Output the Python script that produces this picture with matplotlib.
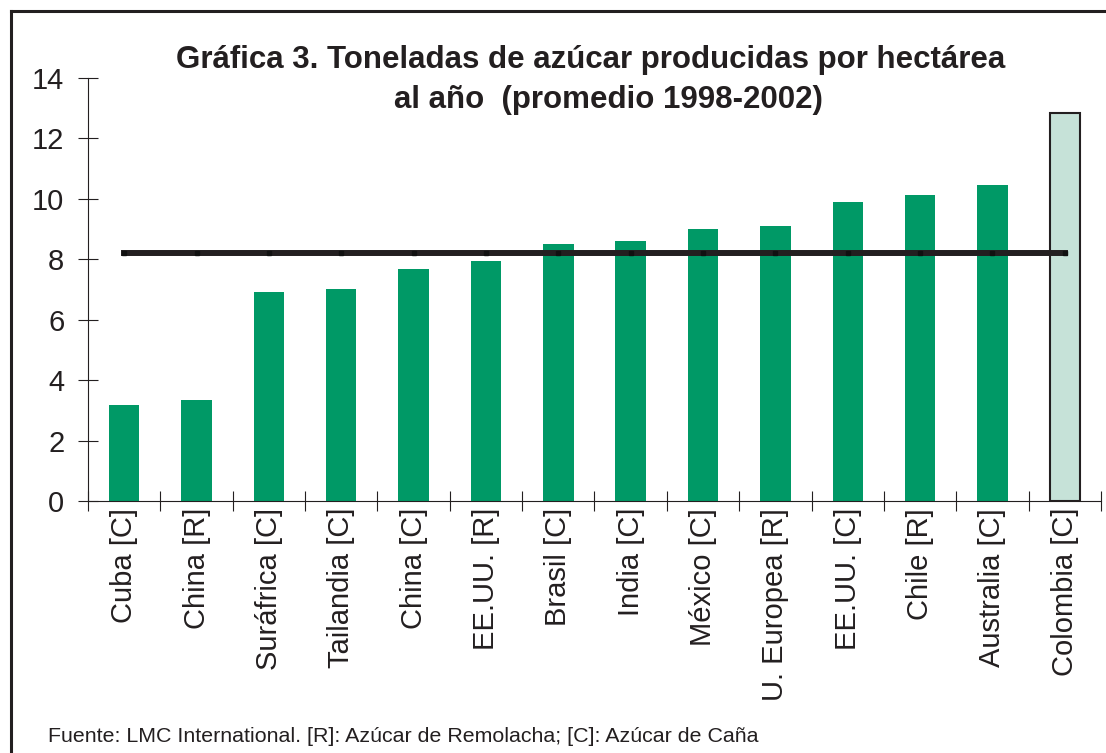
import matplotlib
matplotlib.use('Agg')
from matplotlib import pyplot as plt
from matplotlib.lines import Line2D
import numpy as np

plt.rcParams['font.family'] = ['Liberation Sans', 'DejaVu Sans']

# Data
paises = ['Cuba [C]', 'China [R]', 'Suráfrica [C]', 'Tailandia [C]', 'China [C]',
          'EE.UU. [R]', 'Brasil [C]', 'India [C]', 'México [C]', 'U. Europea [R]',
          'EE.UU. [C]', 'Chile [R]', 'Australia [C]', 'Colombia [C]']
toneladas = [3.18, 3.34, 6.92, 7.02, 7.68, 7.95, 8.51, 8.61, 9.0, 9.1,
             9.9, 10.13, 10.46, 12.85]
promedio = [8.2] * len(paises)

verde = '#009966'
verde_claro = '#c6e2d8'
oscuro = '#231f20'

fig = plt.figure(figsize=(11.06, 7.53), dpi=100)
ax = fig.add_axes([88 / 1106, 1 - 501 / 753, (1101 - 88) / 1106, (501 - 78) / 753])

x = np.arange(len(paises))
colores = [verde] * (len(paises) - 1) + [verde_claro]
bordes = ['none'] * (len(paises) - 1) + [oscuro]
ax.bar(x, toneladas, width=0.42, color=colores, edgecolor=bordes, linewidth=1.5, zorder=2)

# average line
ax.plot(x, promedio, color=oscuro, lw=4.3, marker='s', markersize=3.5,
        markerfacecolor='#111111', markeredgecolor='#111111', zorder=3)

ax.set_xlim(-0.5, len(paises) - 0.5)
ax.set_ylim(0, 14)
ax.set_yticks(np.arange(0, 15, 2))
ax.tick_params(axis='y', direction='inout', length=14, width=0.8, color=oscuro,
               labelsize=21, labelcolor=oscuro, pad=10)

ax.set_xticks(x)
ax.set_xticklabels(paises, rotation=90, ha='center', va='top')
ax.set_xticks(np.arange(-0.5, len(paises), 1), minor=True)
ax.tick_params(axis='x', which='major', length=0, labelsize=21, labelcolor=oscuro, pad=5)
ax.tick_params(axis='x', which='minor', direction='inout', length=14, width=0.8, color=oscuro)

for s in ['top', 'right']:
    ax.spines[s].set_visible(False)
for s in ['left', 'bottom']:
    ax.spines[s].set_color(oscuro)
    ax.spines[s].set_linewidth(0.8)

fig.text(591 / 1106, 1 - 68 / 753, 'Gráfica 3. Toneladas de azúcar producidas por hectárea',
         ha='center', va='baseline', fontsize=22.5, fontweight='bold', color=oscuro)
fig.text(608 / 1106, 1 - 108 / 753, 'al año  (promedio 1998-2002)',
         ha='center', va='baseline', fontsize=22.5, fontweight='bold', color=oscuro)

fig.text(48 / 1106, 1 - 742 / 753,
         'Fuente: LMC International. [R]: Azúcar de Remolacha; [C]: Azúcar de Caña',
         ha='left', va='baseline', fontsize=15.4, color=oscuro)

# outer frame (left and top edges visible)
fig.add_artist(Line2D([11 / 1106, 11 / 1106], [0, 1 - 11 / 753], transform=fig.transFigure,
                      color=oscuro, lw=2.2))
fig.add_artist(Line2D([11 / 1106, 1], [1 - 11 / 753, 1 - 11 / 753], transform=fig.transFigure,
                      color=oscuro, lw=2.2))

fig.savefig('out.png', dpi=100)
